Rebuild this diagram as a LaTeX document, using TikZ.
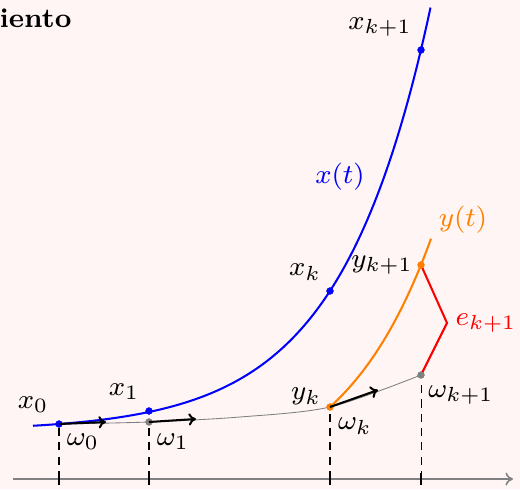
\documentclass[tikz,border=0pt]{standalone}
\usetikzlibrary{arrows.meta}
\definecolor{bgpink}{RGB}{254,245,244}
\begin{document}
\begin{tikzpicture}[x=0.294pt,y=-0.294pt,font=\footnotesize,
  lbl/.style={inner sep=0pt},
  dotb/.style={circle,fill=blue,inner sep=0pt,minimum size=2.1pt},
  dotg/.style={circle,fill=gray,inner sep=0pt,minimum size=2.1pt},
  doto/.style={circle,fill=orange,inner sep=0pt,minimum size=2.1pt},
  guide/.style={line width=0.3pt,dash pattern=on 2.4pt off 1.8pt},
  vel/.style={line width=0.6pt,-{To[length=2.2pt,width=3.6pt]}},
  tick/.style={line width=0.4pt}]
\fill[bgpink] (0,0) rectangle (520,489);
\useasboundingbox (0,0) rectangle (520,489);
% title
\node[anchor=base west,inner sep=0pt,font=\footnotesize\bfseries] (title) at (-1,28) {iento};
% axis
\coordinate (a0) at (13,479);
\coordinate (a1) at (513,479);
\draw[gray,line width=0.45pt,-{To[length=2.2pt,width=3.8pt]}] (a0) -- (a1);
% tick coordinates
\foreach \n/\xx in {t0/59,t1/149,tk/330,tk1/421}{
  \coordinate (\n) at (\xx,479);
  \draw[tick] (\xx,473) -- (\xx,485);
}
% points
\node[dotb] (x0) at (59,424) {};
\node[dotb] (x1) at (149,411) {};
\node[dotb] (xk) at (330,291) {};
\node[dotb] (xk1) at (421,50) {};
\node[dotg] (w1) at (149,422) {};
\node[dotg] (wk1) at (421,375) {};
\node[doto] (yk) at (330,407) {};
\node[doto] (yk1) at (421,265) {};
\coordinate (w0) at (59,424);
\coordinate (ek) at (447,323);
% dashed guides
\draw[guide] (t0) -- (w0);
\draw[guide] (t1) -- (w1);
\draw[guide] (tk) -- (yk);
\draw[guide] (tk1) -- (wk1);
% gray numerical trajectory
\draw[gray,line width=0.25pt] plot[smooth,tension=0.5] coordinates {(59,424) (149,422) (240,417) (330,407) (421,375)};
% exact solution x(t)
\draw[blue,line width=0.6pt] plot[domain=33:430.5,samples=120] (\x,{424-7.11*(exp(0.011*(\x-59))-1)});
% y(t)
\draw[orange,line width=0.6pt] plot[domain=330:431,samples=60] (\x,{407-82.6*(exp(0.011*(\x-330))-1)});
% error
\draw[red,line width=0.6pt] (yk1.center) -- (ek) -- (wk1.center);
% redraw dots on top
\node[dotb] at (x0) {};
\node[dotb] at (x1) {};
\node[dotb] at (xk) {};
\node[dotb] at (xk1) {};
\node[dotg] at (w1) {};
\node[dotg] at (wk1) {};
\node[doto] at (yk) {};
\node[doto] at (yk1) {};
% velocity arrows
\coordinate (v0) at (106,422);
\coordinate (v1) at (196,419);
\coordinate (vk) at (378,390);
\draw[vel] (x0.center) -- (v0);
\draw[vel] (w1.center) -- (v1);
\draw[vel] (yk.center) -- (vk);
% labels
\node[lbl] (lx0) at (33,405) {$x_0$};
\node[lbl] (lx1) at (124,392) {$x_1$};
\node[lbl] (lxk) at (305,272) {$x_k$};
\node[lbl] (lxk1) at (380,27) {$x_{k+1}$};
\node[lbl,text=blue] (lxt) at (340,177) {$x(t)$};
\node[lbl,text=orange] (lyt) at (463,220) {$y(t)$};
\node[lbl] (lyk1) at (382,265) {$y_{k+1}$};
\node[lbl] (lyk) at (306,396) {$y_k$};
\node[lbl,text=red] (lek) at (486,323) {$e_{k+1}$};
\node[lbl] (lw0) at (83,442) {$\omega_0$};
\node[lbl] (lw1) at (173,442) {$\omega_1$};
\node[lbl] (lwk) at (355,426) {$\omega_k$};
\node[lbl] (lwk1) at (461,395) {$\omega_{k+1}$};
\end{tikzpicture}
\end{document}
